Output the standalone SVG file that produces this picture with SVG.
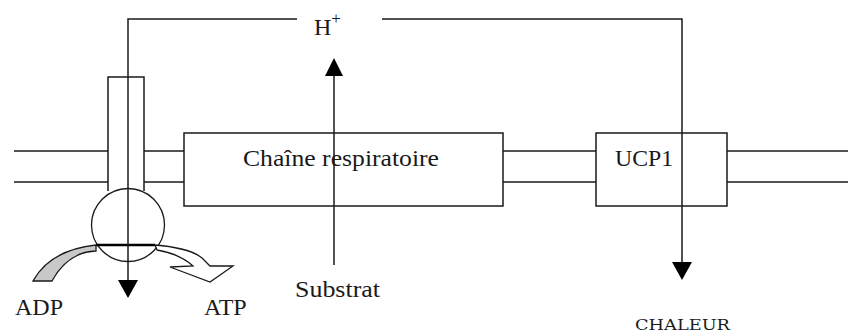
<svg xmlns="http://www.w3.org/2000/svg" width="848" height="334" viewBox="0 0 848 334">
<defs>
<style>
.ln{stroke:#1a1a1a;stroke-width:1.5;fill:none}
.bx{stroke:#1a1a1a;stroke-width:1.5;fill:#fff}
.t{font-family:"Liberation Serif","Times New Roman",serif;font-size:24px;fill:#1a1a1a}
.m{font-family:"DejaVu Serif","Liberation Serif",serif;font-size:15px;fill:#1a1a1a}
</style>
</defs>
<rect width="848" height="334" fill="#fff"/>
<g id="membrane">
<line class="ln" x1="14" y1="151" x2="108" y2="151"/>
<line class="ln" x1="14" y1="182" x2="108" y2="182"/>
<line class="ln" x1="144" y1="151" x2="184" y2="151"/>
<line class="ln" x1="144" y1="182" x2="184" y2="182"/>
<line class="ln" x1="503" y1="151" x2="596" y2="151"/>
<line class="ln" x1="503" y1="182" x2="596" y2="182"/>
<line class="ln" x1="727" y1="151" x2="848" y2="151"/>
<line class="ln" x1="727" y1="182" x2="848" y2="182"/>
</g>
<g id="atp-synthase">
<path class="bx" d="M108,191 L108,77 L144,77 L144,191"/>
<circle cx="128" cy="225" r="36.5" fill="none" stroke="#1a1a1a" stroke-width="1.3"/>
<line x1="96" y1="245" x2="155" y2="245" stroke="#000" stroke-width="2.5"/>
</g>
<g id="adp-arrow">
<path d="M33,281 Q50,250 96,245 L96,251 Q68,252 52,281 Z" fill="#c8c8c8" stroke="#1a1a1a" stroke-width="1.3"/>
</g>
<g id="atp-arrow">
<path d="M155,245 Q190,248 202,258 L210,266 L233,266 L210,282 L170,267 L193,266 Q180,254 157,250 Z" fill="#fff" stroke="#1a1a1a" stroke-width="1.3"/>
</g>
<g id="chaine">
<rect class="bx" x="184" y="133" width="319" height="73"/>
<text class="t" x="243" y="166" textLength="196" lengthAdjust="spacingAndGlyphs">Chaîne respiratoire</text>
</g>
<g id="ucp1">
<rect class="bx" x="596" y="133" width="131" height="73"/>
<text class="t" x="615" y="166" textLength="58" lengthAdjust="spacingAndGlyphs">UCP1</text>
</g>
<g id="connectors">
<polyline class="ln" points="297,19 128,19 128,282"/>
<path d="M118,280 L138,280 L128,298 Z" fill="#000"/>
<polyline class="ln" points="382,19 682,19 682,264"/>
<path d="M672,262 L692,262 L682,280 Z" fill="#000"/>
<line class="ln" x1="334" y1="265" x2="334" y2="74"/>
<path d="M325,76 L343,76 L334,58 Z" fill="#000"/>
</g>
<g id="labels">
<text class="t" x="314" y="35">H<tspan font-size="17" dy="-11">+</tspan></text>
<text class="t" x="15" y="315">ADP</text>
<text class="t" x="204" y="315">ATP</text>
<text class="t" x="295" y="297" textLength="85" lengthAdjust="spacingAndGlyphs">Substrat</text>
<text class="m" x="635" y="330" textLength="95" lengthAdjust="spacingAndGlyphs">CHALEUR</text>
</g>
</svg>
